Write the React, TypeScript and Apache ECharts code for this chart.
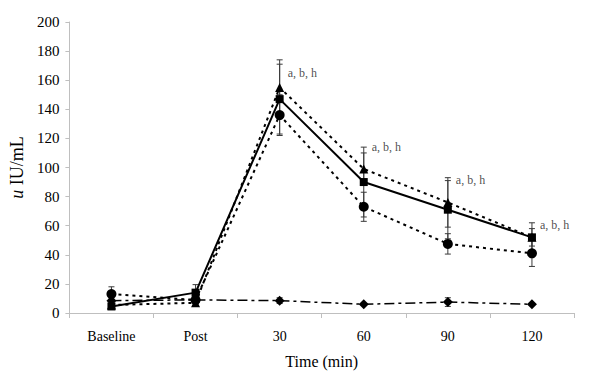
import React, { useEffect, useRef } from "react";
import * as echarts from "echarts";

const categories = ["Baseline", "Post", "30", "60", "90", "120"];
const yTicks = [0, 20, 40, 60, 80, 100, 120, 140, 160, 180, 200];

const squareVals = [4.5, 14, 147, 90, 71, 52];
const squareErr = [1.5, 5.5, 24, 24, 20, 10];
const triangleVals = [5.5, 7, 155, 99, 76, 52];
const triangleErr = [1, 1.5, 19, 11, 17, 6];
const circleVals = [13, 9, 136, 73, 47.5, 41];
const circleErr = [5, 2, 14, 10, 7, 9];
const diamondVals = [8.5, 9, 8.5, 6, 7.5, 6];
const diamondErr = [1, 1, 2, 0.5, 3, 0.5];

const annotationText = "a, b, h";
const annotationIdx = [2, 3, 4, 5];
const annotationY = [165, 114, 91.5, 60.5];

const FONT = "Liberation Serif";

function errData(vals: number[], errs: number[]) {
  return vals.map((v, i) => [i, v - errs[i], v + errs[i]]);
}

function errorSeries(vals: number[], errs: number[]) {
  return {
    type: "custom",
    data: errData(vals, errs),
    z: 1,
    renderItem: (params: any, api: any) => {
      const x = api.value(0);
      const lo = api.coord([x, api.value(1)]);
      const hi = api.coord([x, api.value(2)]);
      const hw = 3;
      const style = { stroke: "#3a3a3a", lineWidth: 1 };
      return {
        type: "group",
        children: [
          { type: "line", shape: { x1: hi[0], y1: hi[1], x2: lo[0], y2: lo[1] }, style },
          { type: "line", shape: { x1: hi[0] - hw, y1: hi[1], x2: hi[0] + hw, y2: hi[1] }, style },
          { type: "line", shape: { x1: lo[0] - hw, y1: lo[1], x2: lo[0] + hw, y2: lo[1] }, style },
        ],
      };
    },
  };
}

function lineSeries(vals: number[], symbol: string, size: number, lineType: any, width: number) {
  return {
    type: "line",
    data: vals,
    symbol,
    symbolSize: size,
    z: 3,
    itemStyle: { color: "#000" },
    lineStyle: { color: "#000", width, type: lineType },
  };
}

export default function App() {
  const ref = useRef<HTMLDivElement>(null);
  useEffect(() => {
    if (!ref.current) return;
    const chart = echarts.init(ref.current, null, { renderer: "svg" });
    chart.setOption({
      animation: false,
      backgroundColor: "#fff",
      grid: { left: 64, right: 26, top: 22, bottom: 67, containLabel: false },
      xAxis: {
        type: "category",
        data: categories,
        boundaryGap: true,
        name: "Time (min)",
        nameLocation: "middle",
        nameGap: 40,
        nameTextStyle: { fontFamily: FONT, fontSize: 16, color: "#000" },
        axisLine: { lineStyle: { color: "#bfbfbf", width: 1 } },
        axisTick: { show: true, length: 5, lineStyle: { color: "#bfbfbf" } },
        axisLabel: { fontFamily: FONT, fontSize: 14, color: "#000", margin: 16 },
        splitLine: { show: false },
      },
      yAxis: {
        type: "value",
        min: yTicks[0],
        max: yTicks[yTicks.length - 1],
        interval: 20,
        name: "{i|u} IU/mL",
        nameLocation: "middle",
        nameGap: 36,
        nameRotate: 90,
        nameTextStyle: {
          fontFamily: FONT,
          fontSize: 18,
          color: "#000",
          rich: { i: { fontFamily: FONT, fontSize: 18, fontStyle: "italic", color: "#000" } },
        },
        axisLine: { show: true, lineStyle: { color: "#bfbfbf", width: 1 } },
        axisTick: { show: true, length: 4, lineStyle: { color: "#bfbfbf" } },
        axisLabel: { fontFamily: FONT, fontSize: 15, color: "#000", margin: 10 },
        splitLine: { show: false },
      },
      series: [
        errorSeries(squareVals, squareErr),
        errorSeries(triangleVals, triangleErr),
        errorSeries(circleVals, circleErr),
        errorSeries(diamondVals, diamondErr),
        lineSeries(diamondVals, "diamond", 10, [10, 4, 3, 4], 1.5),
        lineSeries(circleVals, "circle", 10, [3, 4], 2),
        lineSeries(triangleVals, "triangle", 9, [3, 4], 2),
        lineSeries(squareVals, "rect", 8, "solid", 2),
        {
          type: "scatter",
          data: annotationIdx.map((c, i) => [c, annotationY[i]]),
          symbolSize: 0,
          z: 5,
          label: {
            show: true,
            position: "right",
            distance: 8,
            formatter: annotationText,
            fontFamily: FONT,
            fontSize: 12,
            color: "#222",
          },
        },
      ],
    });
    return () => chart.dispose();
  }, []);
  return (
    <div
      ref={ref}
      style={{ position: "fixed", left: 0, top: 0, width: 600, height: 380 }}
    />
  );
}
